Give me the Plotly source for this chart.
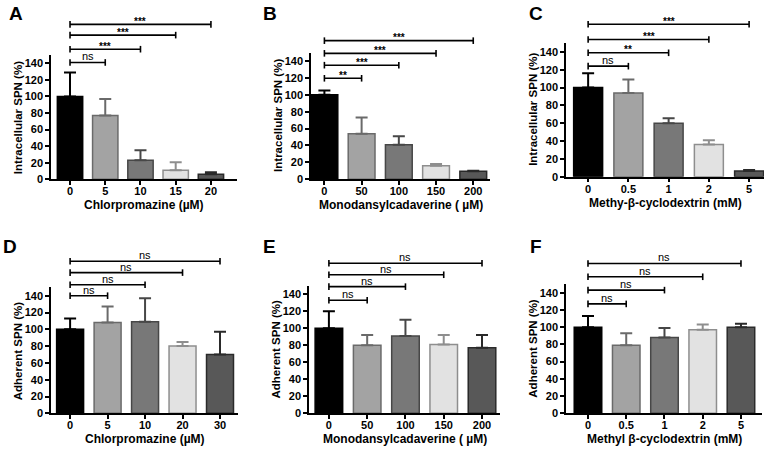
import plotly.graph_objects as go
from plotly.subplots import make_subplots

W, H = 777, 454

# ---------------- data ----------------
cats_A = ["0", "5", "10", "15", "20"]
mean_A = [100, 77, 23, 11, 6]
err_A = [29, 20, 12, 9.5, 2.5]
sig_A = ["ns", "***", "***", "***"]
lvl_A = [141, 157, 174, 187]

cats_B = ["0", "50", "100", "150", "200"]
mean_B = [100, 54, 41, 16, 9.5]
err_B = [5, 19, 10, 2, 0.5]
sig_B = ["**", "***", "***", "***"]
lvl_B = [119.5, 135, 149, 164]

cats_C = ["0", "0.5", "1", "2", "5"]
mean_C = [100, 94, 60, 36, 6.5]
err_C = [16, 15, 5.5, 5, 1]
sig_C = ["ns", "**", "***", "***"]
lvl_C = [124, 139, 154, 171]

cats_D = ["0", "5", "10", "20", "30"]
mean_D = [100, 108, 109, 80, 70]
err_D = [13, 19, 28, 5, 27]
sig_D = ["ns", "ns", "ns", "ns"]
lvl_D = [140, 153, 167.5, 181]

cats_E = ["0", "50", "100", "150", "200"]
mean_E = [100, 80, 91, 81, 77]
err_E = [20, 12, 19, 11, 15]
sig_E = ["ns", "ns", "ns", "ns"]
lvl_E = [133, 149, 163, 176.5]

cats_F = ["0", "0.5", "1", "2", "5"]
mean_F = [100, 79, 88, 97, 100]
err_F = [13, 14, 11, 6, 4]
sig_F = ["ns", "ns", "ns", "ns"]
lvl_F = [127, 143, 158.5, 174]

letters = ["A", "B", "C", "D", "E", "F"]
xtitles = ["Chlorpromazine (µM)", "Monodansylcadaverine ( µM)", "Methy-β-cyclodextrin (mM)",
           "Chlorpromazine (µM)", "Monodansylcadaverine ( µM)", "Methyl β-cyclodextrin (mM)"]
ytitles = ["Intracellular SPN (%)"] * 3 + ["Adherent SPN (%)"] * 3
y_ticks = [0, 20, 40, 60, 80, 100, 120, 140]
YMAX = 150

panels = [
    (cats_A, mean_A, err_A, sig_A, lvl_A),
    (cats_B, mean_B, err_B, sig_B, lvl_B),
    (cats_C, mean_C, err_C, sig_C, lvl_C),
    (cats_D, mean_D, err_D, sig_D, lvl_D),
    (cats_E, mean_E, err_E, sig_E, lvl_E),
    (cats_F, mean_F, err_F, sig_F, lvl_F),
]

# ---------------- styling / layout ----------------
FILL = ["#000000", "#a3a3a3", "#787878", "#e2e2e2", "#585858"]
EDGE = ["#000000", "#6a6a6a", "#474747", "#8e8e8e", "#2a2a2a"]
FONT = "Liberation Sans, Arial, sans-serif"

# plot boxes in pixels: (left, right, top(=150), bottom(=0))
boxes = [
    (51, 237, 55, 179.3),
    (311, 490, 52.5, 179.3),
    (566, 764, 43, 176.7),
    (51, 238, 287.3, 413.3),
    (309, 500, 285.8, 413.3),
    (566, 762, 284.1, 413.3),
]
xranges = [(-0.54, 4.74), (-0.36, 4.45), (-0.55, 4.37),
           (-0.51, 4.48), (-0.52, 4.47), (-0.575, 4.55)]
letter_pos = [(15.5, 13.5), (269.5, 13.5), (535.5, 13.5),
              (10, 246), (269, 246), (536, 246)]

fig = make_subplots(rows=2, cols=3)
shapes = []
annos = []

for i, (cats, means, errs, sigs, lvls) in enumerate(panels):
    row, col = i // 3 + 1, i % 3 + 1
    s = "" if i == 0 else str(i + 1)
    for j in range(len(cats)):
        fig.add_trace(go.Bar(
            x=[cats[j]], y=[means[j]], width=0.72,
            marker=dict(color=FILL[j], line=dict(color=EDGE[j], width=1.5)),
            error_y=dict(type="data", symmetric=False, array=[errs[j]], arrayminus=[0],
                         color=EDGE[j], thickness=2, width=6),
            showlegend=False, hoverinfo="skip"), row=row, col=col)

    l, r, t, b = boxes[i]
    ph = b - t
    fig.layout["xaxis" + s].update(
        domain=[l / W, r / W], type="category", categoryorder="array", categoryarray=cats,
        range=list(xranges[i]), showline=True, linecolor="black", linewidth=1.5,
        ticks="outside", ticklen=4, tickwidth=1.5, tickcolor="black", ticklabelstandoff=-3,
        tickfont=dict(family=FONT, size=11, color="black", weight="bold"),
        showgrid=False, zeroline=False, fixedrange=True, automargin=False)
    fig.layout["yaxis" + s].update(
        domain=[1 - b / H, 1 - t / H], range=[0, YMAX], tickvals=y_ticks,
        showline=True, linecolor="black", linewidth=1.5,
        ticks="outside", ticklen=4, tickwidth=1.5, tickcolor="black",
        tickfont=dict(family=FONT, size=11, color="black", weight="bold"),
        showgrid=False, zeroline=False, fixedrange=True, automargin=False)

    xr, yr = "x" + s, "y" + s + " domain"
    cap = 3.3 / ph
    for k, (lab, lv) in enumerate(zip(sigs, lvls)):
        yd = lv / YMAX
        x0, x1 = 0, k + 1          # category indices
        shapes.append(dict(type="line", xref=xr, yref=yr, x0=x0, x1=x1, y0=yd, y1=yd,
                           line=dict(color="black", width=1.6)))
        for xc in (x0, x1):
            shapes.append(dict(type="line", xref=xr, yref=yr, x0=xc, x1=xc,
                               y0=yd - cap, y1=yd + cap, line=dict(color="black", width=1.6)))
        is_ns = lab == "ns"
        annos.append(dict(xref=xr, yref=yr, x=(x0 + x1) / 2, y=yd, text=lab, showarrow=False,
                          yanchor="middle", yshift=6 if is_ns else 3,
                          font=dict(family=FONT, size=11 if is_ns else 10, color="black",
                                    weight="normal" if is_ns else "bold")))

    # axis titles
    annos.append(dict(xref="x" + s + " domain", yref="y" + s + " domain", x=0.5, y=0,
                      yshift=-26, yanchor="middle", xanchor="center", showarrow=False,
                      text=xtitles[i], font=dict(family=FONT, size=12, color="black", weight="bold")))
    annos.append(dict(xref="x" + s + " domain", yref="y" + s + " domain", x=0, y=0.5,
                      xshift=-33, textangle=-90, xanchor="center", yanchor="middle",
                      showarrow=False, text=ytitles[i],
                      font=dict(family=FONT, size=11.5, color="black", weight="bold")))
    lx, ly = letter_pos[i]
    annos.append(dict(xref="paper", yref="paper", x=lx / W, y=1 - ly / H, text=letters[i],
                      showarrow=False, xanchor="center", yanchor="middle",
                      font=dict(family=FONT, size=19, color="black", weight="bold")))

fig.update_layout(
    template="none",
    width=W, height=H, margin=dict(l=0, r=0, t=0, b=0, autoexpand=False),
    paper_bgcolor="white", plot_bgcolor="white", barmode="overlay",
    shapes=shapes, annotations=annos, showlegend=False)

fig.write_html("out.html", config={"displayModeBar": False},
               post_script="document.body.style.margin='0';")
